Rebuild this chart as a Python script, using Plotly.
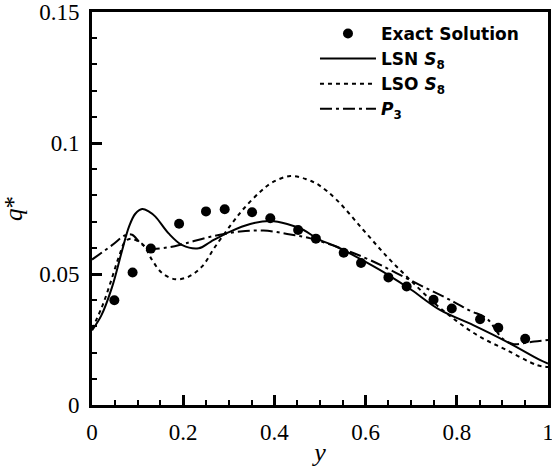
import plotly.graph_objects as go

# Exact solution (markers)
exact_x = [0.049, 0.089, 0.129, 0.191, 0.250, 0.291, 0.351, 0.391, 0.452, 0.491,
           0.552, 0.590, 0.650, 0.690, 0.749, 0.789, 0.851, 0.891, 0.950]
exact_q = [0.0400, 0.0506, 0.0597, 0.0692, 0.0739, 0.0747, 0.0736, 0.0713, 0.0668, 0.0635,
           0.0581, 0.0542, 0.0487, 0.0452, 0.0402, 0.0368, 0.0327, 0.0295, 0.0253]

# LSN S8 (solid)
lsn_x = [0.0, 0.02, 0.044, 0.066, 0.081, 0.095, 0.11, 0.125, 0.139, 0.168, 0.198, 0.234,
         0.26, 0.303, 0.347, 0.391, 0.428, 0.464, 0.497, 0.537, 0.60, 0.65, 0.70, 0.763,
         0.836, 0.909, 0.982, 1.0]
lsn_q = [0.0285, 0.034, 0.045, 0.059, 0.068, 0.073, 0.0748, 0.0738, 0.0719, 0.0655, 0.061, 0.0598,
         0.0623, 0.0662, 0.0691, 0.0702, 0.0691, 0.0668, 0.0632, 0.0604, 0.0546, 0.0496, 0.0440, 0.0363,
         0.0305, 0.0242, 0.0172, 0.0158]

# LSO S8 (dashed)
lso_x = [0.0, 0.022, 0.04, 0.059, 0.073, 0.085, 0.095, 0.113, 0.132, 0.154, 0.183, 0.212,
         0.241, 0.27, 0.307, 0.333, 0.369, 0.395, 0.435, 0.471, 0.497, 0.537, 0.595, 0.647,
         0.698, 0.75, 0.80, 0.851, 0.909, 0.975, 1.0]
lso_q = [0.029, 0.0375, 0.0464, 0.0566, 0.0625, 0.0635, 0.063, 0.061, 0.0553, 0.0503, 0.048, 0.049,
         0.0528, 0.0604, 0.0693, 0.075, 0.0814, 0.0849, 0.0874, 0.0861, 0.084, 0.0782, 0.0668, 0.0566,
         0.0477, 0.0390, 0.0320, 0.026, 0.021, 0.0153, 0.0145]

# P3 (dash-dot)
p3_x = [0.0, 0.044, 0.073, 0.088, 0.105, 0.124, 0.168, 0.205, 0.267, 0.325, 0.376, 0.428,
        0.479, 0.55, 0.61, 0.712, 0.793, 0.829, 0.866, 0.90, 0.925, 0.946, 0.97, 1.0]
p3_q = [0.0555, 0.061, 0.0648, 0.065, 0.062, 0.0598, 0.0602, 0.0617, 0.0645, 0.0662, 0.0666, 0.0653,
        0.0636, 0.0595, 0.0553, 0.0464, 0.0394, 0.036, 0.033, 0.0254, 0.0232, 0.0236, 0.0242, 0.0248]

x_ticks = [0, 0.2, 0.4, 0.6, 0.8, 1.0]
x_labels = ["0", "0.2", "0.4", "0.6", "0.8", "1"]
y_ticks = [0, 0.05, 0.1, 0.15]
y_labels = ["0", "0.05", "0.1", "0.15"]

fig = go.Figure()
fig.add_trace(go.Scatter(x=exact_x, y=exact_q, mode="markers", name="Exact Solution",
                         marker=dict(color="black", size=10)))
fig.add_trace(go.Scatter(x=lsn_x, y=lsn_q, mode="lines", name="LSN <i>S</i><sub>8</sub>",
                         line=dict(color="black", width=2, shape="spline")))
fig.add_trace(go.Scatter(x=lso_x, y=lso_q, mode="lines", name="LSO <i>S</i><sub>8</sub>",
                         line=dict(color="black", width=2, dash="4px,4px", shape="spline")))
fig.add_trace(go.Scatter(x=p3_x, y=p3_q, mode="lines", name="<i>P</i><sub>3</sub>",
                         line=dict(color="black", width=2, dash="12px,4px,3px,4px", shape="spline")))

serif = "Liberation Serif, Times New Roman, serif"
fig.update_layout(
    width=552, height=471,
    margin=dict(l=92, r=4, t=12, b=66, autoexpand=False),
    paper_bgcolor="white", plot_bgcolor="white",
    showlegend=True,
    legend=dict(x=0.489, y=0.99, xanchor="left", yanchor="top",
                font=dict(family="DejaVu Sans, Liberation Sans, sans-serif", size=17, color="black", weight="bold"),
                bgcolor="rgba(0,0,0,0)", tracegroupgap=0, itemwidth=56),
    xaxis=dict(range=[0, 1], tickvals=x_ticks, ticktext=x_labels, automargin=False,
               ticklabeloverflow="allow",
               showline=True, mirror=True, linecolor="black", linewidth=3,
               ticks="inside", ticklen=10, tickwidth=3, tickcolor="black",
               minor=dict(ticks="inside", ticklen=5, tickwidth=1.5, tickcolor="black", dtick=0.05, showgrid=False),
               showgrid=False, zeroline=False,
               tickfont=dict(family=serif, size=23, color="black"),
               ticklabelstandoff=4,
               title=dict(text="<i>y</i>", font=dict(family=serif, size=26, color="black"), standoff=0)),
    yaxis=dict(range=[0, 0.15], tickvals=y_ticks, ticktext=y_labels, automargin=False,
               ticklabeloverflow="allow",
               showline=True, mirror=True, linecolor="black", linewidth=3,
               ticks="inside", ticklen=10, tickwidth=3, tickcolor="black",
               minor=dict(ticks="inside", ticklen=5, tickwidth=1.5, tickcolor="black", dtick=0.01, showgrid=False),
               showgrid=False, zeroline=False,
               tickfont=dict(family=serif, size=23, color="black"),
               ticklabelstandoff=5,
               title=dict(text="<i>q</i>*", font=dict(family=serif, size=25, color="black"), standoff=12)),
)

# remove the page's default body margin so the figure fills the window exactly
fig.write_html("out.html", config={"displayModeBar": False},
               post_script="document.body.style.margin='0';")
